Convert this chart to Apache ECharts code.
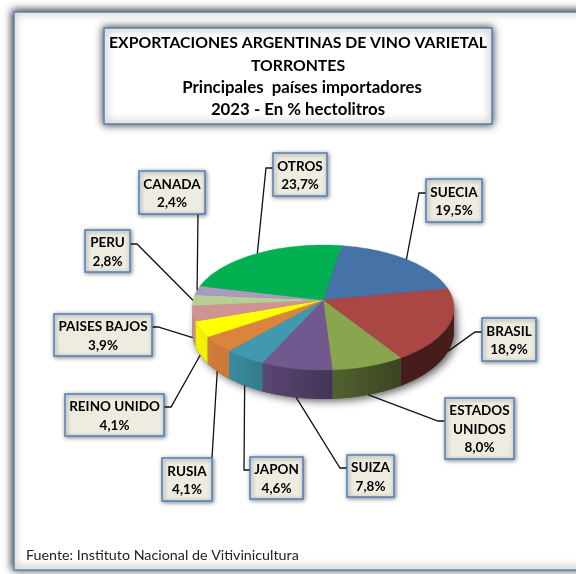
<!DOCTYPE html>
<html>
<head>
<meta charset="utf-8">
<style>html,body{margin:0;padding:0;background:#fff}#c{width:576px;height:574px}</style>
<script src="https://cdn.jsdelivr.net/npm/echarts@6/dist/echarts.min.js"></script>
</head>
<body>
<div id="c"></div>
<script>
const titleLines = ['EXPORTACIONES ARGENTINAS DE VINO VARIETAL', 'TORRONTES'];
const subtitleLines = ['  Principales  países importadores', '2023 - En % hectolitros'];
const sourceText = 'Fuente: Instituto Nacional de Vitivinicultura';
const countries = ['SUECIA', 'BRASIL', 'ESTADOS\nUNIDOS', 'SUIZA', 'JAPON', 'RUSIA', 'REINO UNIDO', 'PAISES BAJOS', 'PERU', 'CANADA', 'OTROS'];
const shares = [19.5, 18.9, 8.0, 7.8, 4.6, 4.1, 4.1, 3.9, 2.8, 2.4, 23.7];
const sliceColors = ['#4572A7', '#AA4643', '#89A54E', '#71588F', '#4198AF', '#DB843D', '#FFFF00', '#D09391', '#B9CD96', '#A99BBD', '#00B050'];

// Layout only: label boxes [left, top, right, bottom], and where the leader leaves the box.
const boxes = [
  [426, 179, 482, 222], [482, 318, 536, 361], [445, 398, 514, 459], [347, 455, 394, 497],
  [250, 457, 303, 499], [162, 458, 212, 501], [65, 394, 164, 436], [54, 314, 152, 356],
  [85, 230, 130, 272], [139, 171, 205, 214], [273, 153, 327, 196]
];
// [x, y] on the box edge, then optional elbow x
const leaderStarts = [
  [426, 193, 419], [482, 332, 475], [445, 421, 438], [347, 468, 340],
  [250, 470, 244], [212, 458], [164, 407, 171], [152, 327, 158],
  [130, 244, 137], [198, 214], [273, 168, 266]
];
const pie = {cx: 323, cy: 300, a: 130, b: 61.6, p: 0.12, startDeg: 9, depth0: 23, depth1: 6};

function project(deg) {
  const t = deg * Math.PI / 180, u = Math.sin(t), v = -Math.cos(t), w = 1 - pie.p * v;
  return {x: pie.cx + pie.a * u / w, y: pie.cy + pie.b * v / w, u: u, v: v};
}
function depth(v) { return pie.depth0 + pie.depth1 * v; }
function shade(hex, k) {
  const n = parseInt(hex.slice(1), 16);
  const c = s => Math.round(((n >> s) & 255) * k);
  return 'rgb(' + c(16) + ',' + c(8) + ',' + c(0) + ')';
}
function wallShade(u) { return Math.max(0.42, Math.min(0.95, 0.62 - 0.45 * u)); }

const total = shares.reduce((s, x) => s + x, 0);
const angles = [];
let acc = pie.startDeg;
shares.forEach(s => { const d = s / total * 360; angles.push([acc, acc + d]); acc += d; });

function arc(a0, a1) {
  const pts = [], n = Math.max(2, Math.ceil((a1 - a0) / 2));
  for (let i = 0; i <= n; i++) pts.push(a0 + (a1 - a0) * i / n);
  return pts;
}

function renderSilhouette() {
  const pts = [];
  for (let d = 0; d < 360; d += 3) {
    const p = project(d);
    pts.push([p.x, p.y + (p.v > 0 ? depth(p.v) : 8)]);
  }
  return {type: 'polygon', silent: true, shape: {points: pts},
    style: {fill: '#555', shadowBlur: 9, shadowColor: 'rgba(0,0,0,0.65)', shadowOffsetX: 3, shadowOffsetY: 2}};
}

function renderSlice(params, api) {
  const i = params.dataIndex, value = api.value(0);
  const a0 = angles[i][0], a1 = a0 + value / total * 360;
  const rim = arc(a0, a1).map(project);
  const children = [];
  const front = rim.filter(p => p.v > 0.1);
  if (front.length > 1) {
    const bottom = front.map(p => [p.x, p.y + depth(p.v)]).reverse();
    const xs = front.map(p => p.x), minX = Math.min.apply(null, xs), maxX = Math.max.apply(null, xs);
    const us = front.map(p => p.u), minU = Math.min.apply(null, us), maxU = Math.max.apply(null, us);
    children.push({type: 'polygon', silent: true,
      shape: {points: front.map(p => [p.x, p.y]).concat(bottom)},
      style: {
        fill: new echarts.graphic.LinearGradient(minX, 0, maxX, 0, [
          {offset: 0, color: shade(sliceColors[i], wallShade(minU))},
          {offset: 1, color: shade(sliceColors[i], wallShade(maxU))}
        ], true),
        stroke: null
      }});
  }
  children.push({type: 'polygon', silent: true,
    shape: {points: [[pie.cx, pie.cy]].concat(rim.map(p => [p.x, p.y]))},
    style: {fill: sliceColors[i], stroke: sliceColors[i], lineWidth: 0.4}});
  return {type: 'group', children: children};
}

function renderLabel(params, api) {
  const i = params.dataIndex, value = api.value(0);
  const a0 = angles[i][0], mid = a0 + value / total * 180;
  const m = project(mid);
  const end = [m.x, m.y + (m.v > 0.05 ? depth(m.v) : 0)];
  const s = leaderStarts[i], b = boxes[i];
  const linePts = s.length > 2 ? [[s[0], s[1]], [s[2], s[1]], end] : [[s[0], s[1]], end];
  const text = countries[i] + '\n' + value.toFixed(1).replace('.', ',') + '%';
  return {type: 'group', children: [
    {type: 'polyline', silent: true, shape: {points: linePts}, style: {fill: null, stroke: '#111', lineWidth: 1.3}},
    {type: 'rect', silent: true, shape: {x: b[0], y: b[1], width: b[2] - b[0], height: b[3] - b[1]},
      style: {fill: '#EEECE1', stroke: '#4F81BD', lineWidth: 1.5, shadowBlur: 4, shadowColor: 'rgba(0,0,0,0.45)', shadowOffsetX: 1, shadowOffsetY: 1}},
    {type: 'text', silent: true, x: (b[0] + b[2]) / 2, y: (b[1] + b[3]) / 2 + 1,
      style: {text: text, fill: '#000', font: 'bold 13.5px Lato, Carlito, sans-serif', align: 'center', verticalAlign: 'middle', lineHeight: 18.5}}
  ]};
}

const chart = echarts.init(document.getElementById('c'), null, {renderer: 'canvas', width: 576, height: 574});
chart.setOption({
  animation: false,
  backgroundColor: '#fff',
  title: {
    text: titleLines.map(t => '{a|' + t + '}').concat(subtitleLines.map(t => '{b|' + t + '}')).join('\n'),
    left: 298, top: 32, textAlign: 'center', padding: 0,
    textStyle: {
      rich: {
        a: {fontFamily: 'Lato, Carlito, sans-serif', fontWeight: 'bold', fontSize: 15.8, lineHeight: 22.3, color: '#000'},
        b: {fontFamily: 'Lato, Carlito, sans-serif', fontWeight: 'bold', fontSize: 16.8, lineHeight: 22.3, color: '#000'}
      }
    }
  },
  graphic: [
    {type: 'rect', z: 0, silent: true, shape: {x: 14, y: 12, width: 640, height: 558},
      style: {fill: '#fff', stroke: '#5B87B8', lineWidth: 1.5, shadowBlur: 8, shadowColor: 'rgba(0,0,0,0.85)', shadowOffsetX: -1, shadowOffsetY: -1}},
    {type: 'rect', z: 1, silent: true, shape: {x: 104, y: 28, width: 388, height: 96},
      style: {fill: '#fff', stroke: '#4F81BD', lineWidth: 1.5, shadowBlur: 8, shadowColor: 'rgba(0,0,0,0.8)'}},
    {type: 'text', z: 1, silent: true, x: 26, y: 555,
      style: {text: sourceText, fill: '#222', font: '14.3px Lato, Carlito, sans-serif', verticalAlign: 'middle'}}
  ],
  series: [
    {type: 'custom', coordinateSystem: 'none', z: 2, silent: true, data: [[1]], renderItem: renderSilhouette},
    {type: 'custom', coordinateSystem: 'none', z: 3, silent: true, data: shares.map(v => [v]), renderItem: renderSlice},
    {type: 'custom', coordinateSystem: 'none', z: 4, silent: true, data: shares.map(v => [v]), renderItem: renderLabel}
  ]
});
</script>
</body>
</html>
